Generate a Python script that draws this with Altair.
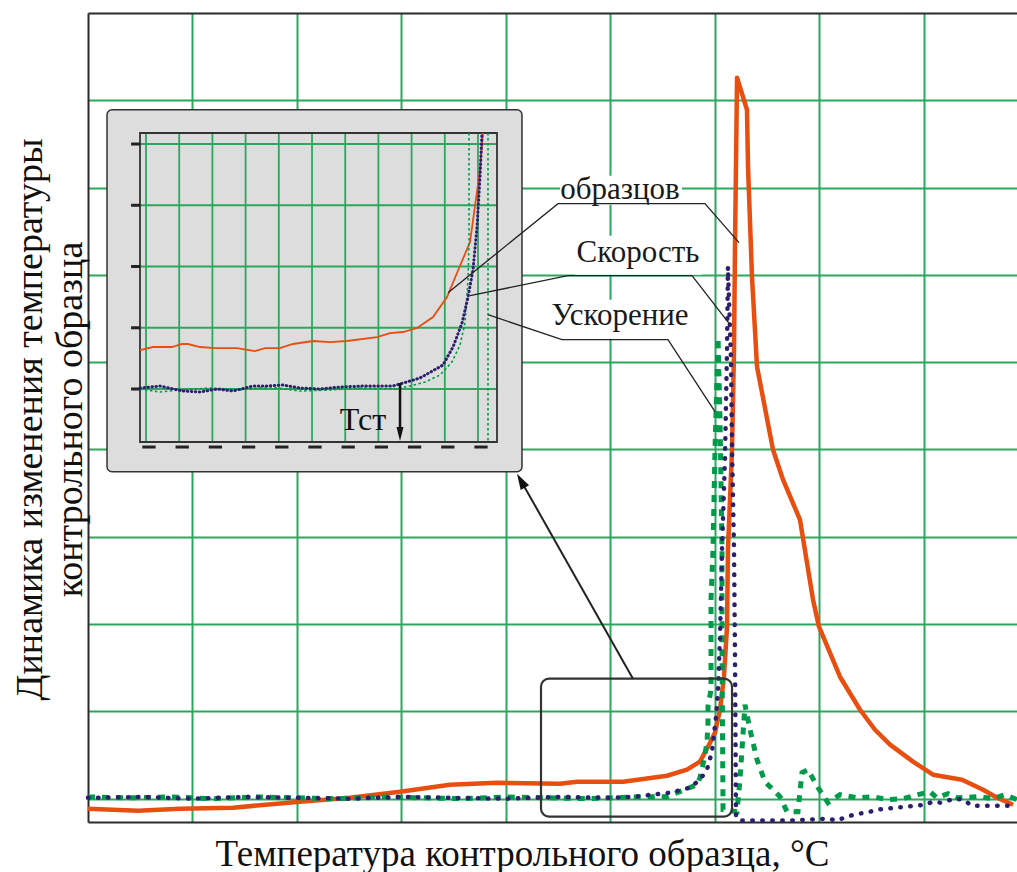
import altair as alt
import pandas as pd

# ---------------- main chart series (grid units) ----------------
orange_x = [0, 0.478, 0.880, 1.388, 2.029, 2.507, 2.986, 3.464, 3.914, 4.517, 4.679, 5.120,
            5.541, 5.732, 5.856, 5.933, 6.000, 6.048, 6.086, 6.115, 6.124, 6.163, 6.182, 6.191,
            6.211, 6.306, 6.316, 6.354, 6.402, 6.450, 6.555, 6.651, 6.813, 6.938, 6.995, 7.196,
            7.388, 7.531, 7.675, 7.895, 8.086, 8.364, 8.565, 8.699, 8.852]
orange_y = [-0.115, -0.137, -0.115, -0.103, -0.034, 0.011, 0.080, 0.160, 0.183, 0.172, 0.195, 0.195,
            0.263, 0.332, 0.424, 0.596, 0.756, 1.019, 1.397, 1.970, 2.852, 3.998, 5.143, 6.289,
            8.259, 7.892, 7.239, 5.979, 4.948, 4.651, 3.998, 3.654, 3.196, 2.280, 1.970, 1.397,
            1.019, 0.790, 0.619, 0.424, 0.275, 0.218, 0.103, 0.011, -0.069]

purple_x = [0, 0.5, 1.0, 1.5, 2.0, 2.5, 3.0, 3.5, 4.0, 4.5, 5.0, 5.2, 5.569, 5.761, 5.856, 5.923,
            5.971, 6.010, 6.029, 6.048, 6.067, 6.096, 6.115, 6.124, 6.153, 6.163, 6.182, 6.191,
            6.201, 6.239, 6.718, 7.081, 7.167, 7.263, 7.368, 7.455, 7.550, 7.646, 7.818, 8.010,
            8.086, 8.153, 8.297, 8.373, 8.459, 8.852]
purple_y = [0.01, 0.02, 0.0, 0.02, 0.01, 0.0, 0.02, 0.01, 0.0, 0.02, 0.01, 0.02, 0.069, 0.126, 0.218,
            0.332, 0.538, 0.939, 1.249, 1.856, 2.852, 3.918, 5.143, 6.094, 5.029, 3.998, 2.852, 1.707,
            -0.206, -0.25, -0.25, -0.229, -0.25, -0.206, -0.172, -0.160, -0.126, -0.115, -0.092, -0.069,
            -0.034, -0.046, 0.0, -0.011, -0.080, -0.080]

green_x = [0, 0.4, 0.8, 1.2, 1.6, 2.0, 2.4, 2.8, 3.2, 3.6, 4.0, 4.4, 4.8, 5.2, 5.541, 5.828, 5.856,
           5.895, 5.923, 5.933, 5.933, 5.962, 5.962, 5.981, 6.000, 6.019, 6.029, 6.048, 6.057,
           6.067, 6.067, 6.077, 6.211, 6.239, 6.287, 6.335, 6.402, 6.478, 6.622, 6.689, 6.794,
           6.813, 6.833, 6.890, 6.986, 7.081, 7.196, 7.359, 7.512, 7.656, 7.799, 7.943, 8.057,
           8.124, 8.230, 8.316, 8.536, 8.660, 8.775, 8.890]
green_y = [0.02, 0.01, 0.02, 0.0, 0.02, 0.01, 0.0, 0.02, 0.01, 0.0, 0.02, 0.01, 0.0, 0.02, 0.023,
           0.160, 0.241, 0.447, 0.641, 0.871, 1.054, 1.249, 2.280, 2.852, 3.998, 4.800, 5.281,
           4.341, 3.654, 2.852, 1.707, -0.126, -0.149, 0.218, 1.077, 0.790, 0.447, 0.195, 0.023,
           -0.149, -0.149, 0.080, 0.298, 0.332, 0.126, -0.046, 0.046, 0.011, 0.023, -0.011, 0.0,
           0.046, 0.080, 0.011, 0.057, 0.011, 0.023, 0.0, 0.046, -0.011]

# ---------------- inset series (inset grid units) ----------------
in_orange_x = [-0.181, 0.211, 0.783, 1.084, 1.265, 1.627, 2.078, 2.741, 3.283, 3.584, 4.036, 4.428,
               5.030, 5.542, 6.054, 6.958, 7.349, 7.741, 8.163, 8.645, 9.066, 9.367, 9.759, 10.060, 10.151]
in_orange_y = [0.637, 0.686, 0.686, 0.735, 0.735, 0.686, 0.669, 0.669, 0.620, 0.669, 0.669, 0.735,
               0.784, 0.767, 0.784, 0.849, 0.914, 0.931, 0.996, 1.176, 1.502, 1.894, 2.400, 3.576, 4.180]

in_purple_x = [-0.181, 0.422, 1.114, 1.627, 2.139, 2.620, 3.223, 3.645, 4.127, 4.639, 5.241, 5.843,
               6.536, 7.440, 7.651, 8.253, 8.946, 9.247, 9.518, 9.699, 9.849, 9.970, 10.060, 10.120]
in_purple_y = [0.016, 0.049, -0.033, -0.049, 0.0, -0.033, 0.049, 0.049, 0.065, 0.016, 0.0, 0.033,
               0.049, 0.049, 0.082, 0.180, 0.392, 0.686, 1.078, 1.502, 1.943, 2.645, 3.461, 4.180]

in_green_x = [-0.181, 0.422, 1.024, 1.928, 2.831, 3.735, 4.639, 5.542, 6.446, 7.500, 7.952, 8.404,
              8.855, 9.217, 9.458, 9.608, 9.699, 9.729, 9.729]
in_green_y = [0.0, -0.049, -0.016, 0.016, -0.016, 0.033, -0.033, -0.016, 0.016, 0.0, 0.049, 0.114,
              0.229, 0.441, 0.718, 1.078, 1.780, 2.433, 4.180]
in_green_fall_x = [10.301, 10.301]
in_green_fall_y = [4.180, -0.865]

# ---------------- grids / ticks ----------------
main_x_grid = [1, 2, 3, 4, 5, 6, 7, 8]
main_y_grid = [0, 1, 2, 3, 4, 5, 6, 7, 8]
inset_x_grid = [0, 1, 2, 3, 4, 5, 6, 7, 8, 9, 10]
inset_y_grid = [0, 1, 2, 3, 4]

# ---------------- annotation text ----------------
x_title = "Температура контрольного образца, °C"
y_title = ["Динамика изменения температуры", "контрольного образца"]
labels = ["образцов", "Скорость", "Ускорение"]
tst_label = "Тст"

# annotation anchors (main grid units)
label_x = [5.091, 5.263, 5.091]
label_y = [6.873, 6.151, 5.430]
label_box = [(4.517, 5.684, 7.136, 6.804), (4.660, 5.876, 6.449, 6.002), (4.421, 5.761, 5.716, 5.269)]
leader_x = [[3.445, 4.498, 5.904, 6.230], [3.656, 4.593, 5.780, 6.144], [3.828, 4.536, 5.550, 6.000]]
leader_y = [[5.796, 6.816, 6.816, 6.369], [5.762, 5.991, 5.991, 5.430], [5.544, 5.258, 5.258, 4.433]]
inset_box = (0.182, 4.153, 3.746, 7.892)
zoom_box = (4.335, 6.163, -0.206, 1.375)
arrow_x = [5.215, 4.143]
arrow_y = [1.375, 3.643]

# ---------------- styles ----------------
GRID = "#2BA85E"
ORANGE = "#E84E0F"
PURPLE = "#2D1E6E"
GREEN = "#009A4A"
DARK = "#2A2A2A"
FONT = "Liberation Serif"

W, H = 929, 809
mx = alt.Scale(domain=[0, 8.89], nice=False, zero=False)
my = alt.Scale(domain=[-0.267, 9.0], nice=False, zero=False)
ix = alt.Scale(domain=[-0.181, 10.572], range=[52, 409], nice=False, zero=False)
iy = alt.Scale(domain=[-0.865, 4.18], range=[429, 120], nice=False, zero=False)

main_xaxis = alt.Axis(values=main_x_grid, grid=True, gridColor=GRID, gridWidth=2, ticks=False,
                      labels=False, domain=True, domainColor=DARK, domainWidth=2, orient="bottom",
                      title=x_title, titleFont=FONT, titleFontSize=37, titleFontWeight="normal",
                      titleColor="#111", titleX=434, titleY=43, titleAlign="center",
                      titleBaseline="alphabetic")
main_yaxis = alt.Axis(values=main_y_grid, grid=True, gridColor=GRID, gridWidth=2, ticks=False,
                      labels=False, domain=True, domainColor=DARK, domainWidth=2, orient="left",
                      title=y_title, titleFont=FONT, titleFontSize=38, titleFontWeight="normal",
                      titleColor="#111", titleAngle=270, titleX=-47, titleY=406,
                      titleAlign="center", titleBaseline="alphabetic", titleLineHeight=40)


def series(xs, ys):
    return pd.DataFrame({"x": xs, "y": ys, "i": list(range(len(xs)))})


def main_line(xs, ys, **mk):
    return alt.Chart(series(xs, ys)).mark_line(**mk).encode(
        x=alt.X("x:Q", scale=mx, axis=main_xaxis),
        y=alt.Y("y:Q", scale=my, axis=main_yaxis),
        order="i:Q",
    )


main = alt.layer(
    main_line(orange_x, orange_y, color=ORANGE, strokeWidth=4.5, strokeJoin="round"),
    main_line(green_x, green_y, color=GREEN, strokeWidth=5, strokeDash=[7, 7]),
    main_line(purple_x, purple_y, color=PURPLE, strokeWidth=4.5, strokeDash=[0.5, 9.5],
              strokeCap="round"),
)

# ---------- inset background box (main units) ----------
box_df = pd.DataFrame({"x": [inset_box[0]], "x2": [inset_box[1]],
                       "y": [inset_box[2]], "y2": [inset_box[3]]})
box = alt.Chart(box_df).mark_rect(fill="#DDDDDD", stroke="#333", strokeWidth=1.5,
                                  cornerRadius=5).encode(
    x=alt.X("x:Q", scale=mx, axis=None), x2="x2:Q",
    y=alt.Y("y:Q", scale=my, axis=None), y2="y2:Q")

# ---------- inset (inset units) ----------
XL, XR, YB, YT = -0.181, 10.572, -0.865, 4.18
vgrid = pd.DataFrame({"x": inset_x_grid, "y": [YB] * len(inset_x_grid), "y2": [YT] * len(inset_x_grid)})
hgrid = pd.DataFrame({"y": inset_y_grid, "x": [XL] * len(inset_y_grid), "x2": [XR] * len(inset_y_grid)})
lticks = pd.DataFrame({"y": inset_y_grid, "x": [-0.45] * len(inset_y_grid), "x2": [-0.17] * len(inset_y_grid)})
bdash = pd.DataFrame({"x": [v - 0.11 for v in inset_x_grid], "x2": [v + 0.29 for v in inset_x_grid],
                      "y": [-0.947] * len(inset_x_grid)})
frame_df = pd.DataFrame({"x": [XL], "x2": [XR], "y": [YB], "y2": [YT]})


def ix_enc(field="x:Q"):
    return alt.X(field, scale=ix, axis=None)


def iy_enc(field="y:Q"):
    return alt.Y(field, scale=iy, axis=None)


def inset_line(xs, ys, **mk):
    return alt.Chart(series(xs, ys)).mark_line(**mk).encode(x=ix_enc(), y=iy_enc(), order="i:Q")


tst_df = pd.DataFrame({"x": [7.651], "y": [0.098], "y2": [-0.70]})
tst_head = pd.DataFrame({"x": [7.651], "y": [-0.735]})
tst_text = pd.DataFrame({"x": [6.536], "y": [-0.669], "t": [tst_label]})

inset = alt.layer(
    alt.Chart(vgrid).mark_rule(color=GRID, strokeWidth=1.8).encode(x=ix_enc(), y=iy_enc(), y2="y2:Q"),
    alt.Chart(hgrid).mark_rule(color=GRID, strokeWidth=1.8).encode(y=iy_enc(), x=ix_enc(), x2="x2:Q"),
    alt.Chart(frame_df).mark_rect(fill=None, stroke="#333", strokeWidth=1.8).encode(
        x=ix_enc(), x2="x2:Q", y=iy_enc(), y2="y2:Q"),
    alt.Chart(lticks).mark_rule(color="#222", strokeWidth=3).encode(y=iy_enc(), x=ix_enc(), x2="x2:Q"),
    alt.Chart(bdash).mark_rule(color="#222", strokeWidth=3).encode(y=iy_enc(), x=ix_enc(), x2="x2:Q"),
    inset_line(in_orange_x, in_orange_y, color=ORANGE, strokeWidth=1.8),
    inset_line(in_green_x, in_green_y, color=GREEN, strokeWidth=1.6, strokeDash=[2.5, 2.5]),
    inset_line(in_green_fall_x, in_green_fall_y, color=GREEN, strokeWidth=1.6, strokeDash=[2.5, 2.5]),
    inset_line(in_purple_x, in_purple_y, color=PURPLE, strokeWidth=3, strokeDash=[0.5, 3.5],
               strokeCap="round"),
    alt.Chart(tst_df).mark_rule(color="#111", strokeWidth=2.5).encode(x=ix_enc(), y=iy_enc(), y2="y2:Q"),
    alt.Chart(tst_head).mark_point(shape="M0,1L0.5,-1L-0.5,-1Z", filled=True, color="#111",
                                   size=196, opacity=1).encode(x=ix_enc(), y=iy_enc()),
    alt.Chart(tst_text).mark_text(font=FONT, fontSize=32, color="#111", align="center",
                                  baseline="alphabetic").encode(x=ix_enc(), y=iy_enc(), text="t:N"),
)

# ---------- annotations (main units) ----------
top_axis = alt.Axis(orient="top", grid=False, ticks=False, labels=False, domain=True,
                    domainColor=DARK, domainWidth=2, title=None)


def ax_enc(field="x:Q"):
    return alt.X(field, scale=mx, axis=top_axis)


def ay_enc(field="y:Q"):
    return alt.Y(field, scale=my, axis=None)


lb_df = pd.DataFrame({"x": [b[0] for b in label_box], "x2": [b[1] for b in label_box],
                      "y": [b[2] for b in label_box], "y2": [b[3] for b in label_box]})
lead_rows = []
for k, (xs, ys) in enumerate(zip(leader_x, leader_y)):
    for j, (a, b) in enumerate(zip(xs, ys)):
        lead_rows.append({"x": a, "y": b, "g": k, "i": j})
lead_df = pd.DataFrame(lead_rows)
lab_df = pd.DataFrame({"x": label_x, "y": label_y, "t": labels})
zoom_df = pd.DataFrame({"x": [zoom_box[0]], "x2": [zoom_box[1]], "y": [zoom_box[2]], "y2": [zoom_box[3]]})
arrow_df = pd.DataFrame({"x": arrow_x, "y": arrow_y, "i": [0, 1]})
head_df = pd.DataFrame({"x": [arrow_x[1]], "y": [arrow_y[1]]})

annot = alt.layer(
    alt.Chart(lb_df).mark_rect(fill="white").encode(x=ax_enc(), x2="x2:Q", y=ay_enc(), y2="y2:Q"),
    alt.Chart(lead_df).mark_line(color="#222", strokeWidth=1.3).encode(
        x=ax_enc(), y=ay_enc(), detail="g:N", order="i:Q"),
    alt.Chart(lab_df).mark_text(font=FONT, fontSize=31, color="#1A1A1A", align="center",
                                baseline="alphabetic").encode(x=ax_enc(), y=ay_enc(), text="t:N"),
    alt.Chart(zoom_df).mark_rect(fill=None, stroke="#333", strokeWidth=2.2, cornerRadius=8).encode(
        x=ax_enc(), x2="x2:Q", y=ay_enc(), y2="y2:Q"),
    alt.Chart(arrow_df).mark_line(color="#222", strokeWidth=2).encode(x=ax_enc(), y=ay_enc(), order="i:Q"),
    alt.Chart(head_df).mark_point(shape="M0,-1L0.6,1L-0.6,1Z", filled=True, color="#111", size=256,
                                  angle=330.5, opacity=1).encode(x=ax_enc(), y=ay_enc()),
)

chart = alt.layer(main, box, inset, annot).resolve_scale(
    x="independent", y="independent"
).properties(
    width=W, height=H,
    autosize=alt.AutoSizeParams(type="none"),
    padding={"left": 88, "top": 13, "right": 0, "bottom": 50},
    background="white",
).configure_view(stroke=None)

chart.save("out.html", embed_options={"renderer": "svg", "actions": False})
